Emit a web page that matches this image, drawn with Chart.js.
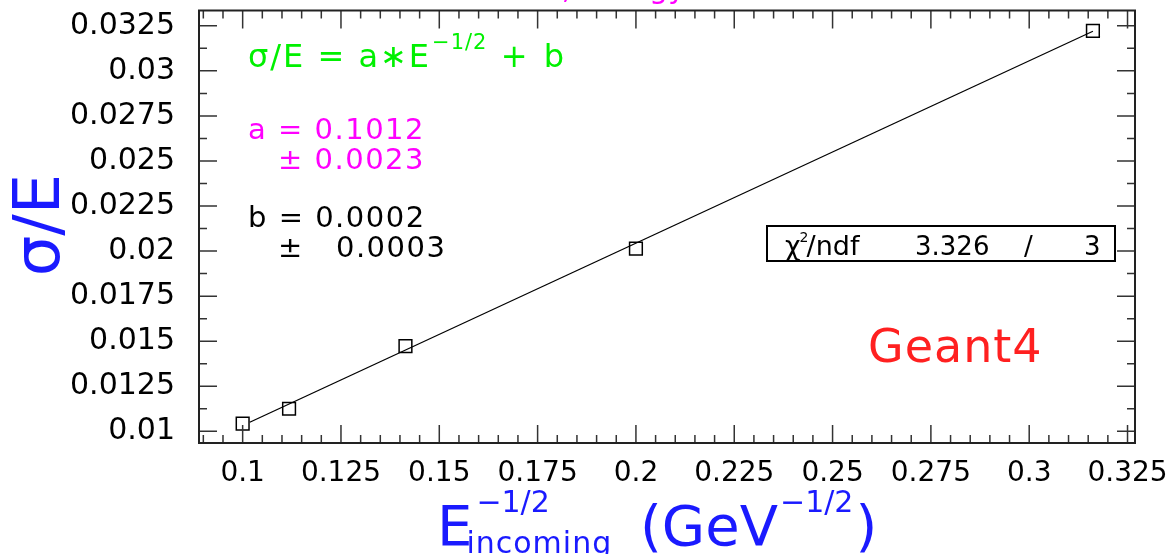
<!DOCTYPE html>
<html>
<head>
<meta charset="utf-8">
<script src="https://cdn.jsdelivr.net/npm/chart.js@4.4.1/dist/chart.umd.min.js"></script>
<style>
  body { margin: 0; background: #fff; }
  #wrap { width: 1176px; height: 554px; position: relative; }
</style>
</head>
<body>
<div id="wrap"><canvas id="resChart"></canvas></div>
<script>
// measured points (E^-1/2, sigma/E)
var xValues = [0.1, 0.1118, 0.1414, 0.2, 0.3162];
var yValues = [0.01042, 0.01125, 0.01473, 0.02014, 0.03222];
// fit line end points
var fitX = [0.1018, 0.3162];
var fitY = [0.0105, 0.0322];
// axis settings
var xRange = [0.0889, 0.3269];
var yRange = [0.00935, 0.03335];
var xStep = 0.025;
var yStep = 0.0025;

var FONT = "'DejaVu Sans', sans-serif";

function fmt(v) {
  return String(parseFloat(v.toFixed(5)));
}

function txt(ctx, s, x, y, size, color, align, spacing) {
  ctx.font = size + "px " + FONT;
  ctx.fillStyle = color;
  ctx.textAlign = align || "left";
  ctx.textBaseline = "alphabetic";
  ctx.letterSpacing = (spacing || 0) + "px";
  ctx.fillText(s, x, y);
  var w = ctx.measureText(s).width;
  ctx.letterSpacing = "0px";
  return x + w;
}

var pawFrame = {
  id: "pawFrame",
  afterDraw: function(chart) {
    var ctx = chart.ctx, a = chart.chartArea;
    var xs = chart.scales.x, ys = chart.scales.y;
    ctx.save();

    // ticks inside the frame on all four sides
    ctx.strokeStyle = "#333";
    ctx.lineWidth = 1.5;
    ctx.beginPath();
    for (var i = 18; i <= 65; i++) {
      var v = i * 0.005;
      if (v < xs.min || v > xs.max) continue;
      var px = xs.getPixelForValue(v);
      var len = (i % 5 === 0) ? 18 : 8;
      ctx.moveTo(px, a.bottom); ctx.lineTo(px, a.bottom - len);
      ctx.moveTo(px, a.top); ctx.lineTo(px, a.top + len);
    }
    for (var j = 7; j <= 27; j++) {
      var w = j * 0.00125;
      if (w < ys.min || w > ys.max) continue;
      var py = ys.getPixelForValue(w);
      var l2 = (j % 2 === 0) ? 18 : 8;
      ctx.moveTo(a.left, py); ctx.lineTo(a.left + l2, py);
      ctx.moveTo(a.right, py); ctx.lineTo(a.right - l2, py);
    }
    ctx.stroke();

    // frame
    ctx.strokeStyle = "#222";
    ctx.lineWidth = 2;
    ctx.strokeRect(a.left, a.top, a.right - a.left, a.bottom - a.top);

    // title, mostly off the top of the picture
    txt(ctx, "Resolution, Energy", 405, -2, 30, "#ff00ff");

    // fit formula
    var x = txt(ctx, "\u03c3/E = a\u2217E", 248, 67, 32, "#00f000", "left", 2);
    x = txt(ctx, "\u22121/2", x + 1, 49, 21, "#00f000", "left", 1);
    txt(ctx, " + b", x, 67, 32, "#00f000", "left", 3);

    // parameters
    txt(ctx, "a = 0.1012", 248, 139, 29, "#ff00ff", "left", 1.5);
    txt(ctx, "\u00b1 0.0023", 278, 169, 29, "#ff00ff", "left", 1.5);
    txt(ctx, "b = 0.0002", 248, 227, 29, "#000", "left", 1.5);
    txt(ctx, "\u00b1   0.0003", 278, 257, 29, "#000", "left", 1.5);

    // chi2 box
    ctx.strokeStyle = "#000";
    ctx.lineWidth = 2;
    ctx.strokeRect(767, 226, 348, 35);
    var cx = txt(ctx, "\u03c7", 785, 255, 27, "#000");
    txt(ctx, "2", cx - 1, 242, 14, "#000");
    txt(ctx, "/ndf", cx + 6, 255, 27, "#000");
    txt(ctx, "3.326", 915, 255, 26, "#000");
    txt(ctx, "/", 1024, 255, 26, "#000");
    txt(ctx, "3", 1084, 255, 26, "#000");

    // Geant4 label
    txt(ctx, "Geant4", 868, 362, 46, "#ff2020", "left", 1);

    // y axis title
    ctx.save();
    ctx.translate(59, 225);
    ctx.rotate(-Math.PI / 2);
    txt(ctx, "\u03c3/E", 0, 0, 64, "#1a1aff", "center");
    ctx.restore();

    // x axis title
    var bx = txt(ctx, "E", 437, 545, 56, "#1a1aff");
    txt(ctx, "\u22121/2", bx + 4, 512, 30, "#1a1aff");
    txt(ctx, "incoming", bx - 6, 553, 30, "#1a1aff", "left", 1);
    var gx = txt(ctx, "(GeV", 640, 545, 56, "#1a1aff");
    gx = txt(ctx, "\u22121/2", gx + 2, 512, 30, "#1a1aff");
    txt(ctx, ")", gx + 2, 545, 56, "#1a1aff");

    ctx.restore();
  }
};

var points = xValues.map(function(v, i) { return { x: v, y: yValues[i] }; });
var fitLine = fitX.map(function(v, i) { return { x: v, y: fitY[i] }; });

var ctx = document.getElementById("resChart").getContext("2d");
var myChart = new Chart(ctx, {
  type: "scatter",
  data: {
    datasets: [
      {
        type: "line",
        data: fitLine,
        borderColor: "#000",
        borderWidth: 1.3,
        pointRadius: 0,
        fill: false
      },
      {
        data: points,
        pointStyle: "rect",
        pointRadius: 9,
        pointBackgroundColor: "rgba(0,0,0,0)",
        pointBorderColor: "#000",
        pointBorderWidth: 1.5
      }
    ]
  },
  options: {
    responsive: true,
    maintainAspectRatio: false,
    animation: false,
    layout: { padding: { top: 7, right: 41, left: 0, bottom: 0 } },
    plugins: { legend: { display: false }, tooltip: { enabled: false } },
    scales: {
      x: {
        type: "linear",
        min: xRange[0],
        max: xRange[1],
        grid: { display: false },
        border: { display: false },
        ticks: {
          stepSize: xStep,
          includeBounds: false,
          autoSkip: false,
          maxRotation: 0,
          padding: 6,
          color: "#000",
          font: { family: FONT, size: 28 },
          callback: function(value) { return fmt(value); }
        },
        afterFit: function(s) { s.height = 111; s.paddingLeft = 0; s.paddingRight = 0; }
      },
      y: {
        type: "linear",
        min: yRange[0],
        max: yRange[1],
        grid: { display: false },
        border: { display: false },
        ticks: {
          stepSize: yStep,
          includeBounds: false,
          autoSkip: false,
          padding: 16,
          color: "#000",
          font: { family: FONT, size: 30 },
          callback: function(value) { return fmt(value); }
        },
        afterFit: function(s) { s.width = 199; s.paddingTop = 0; s.paddingBottom = 0; }
      }
    }
  },
  plugins: [pawFrame]
});
</script>
</body>
</html>
